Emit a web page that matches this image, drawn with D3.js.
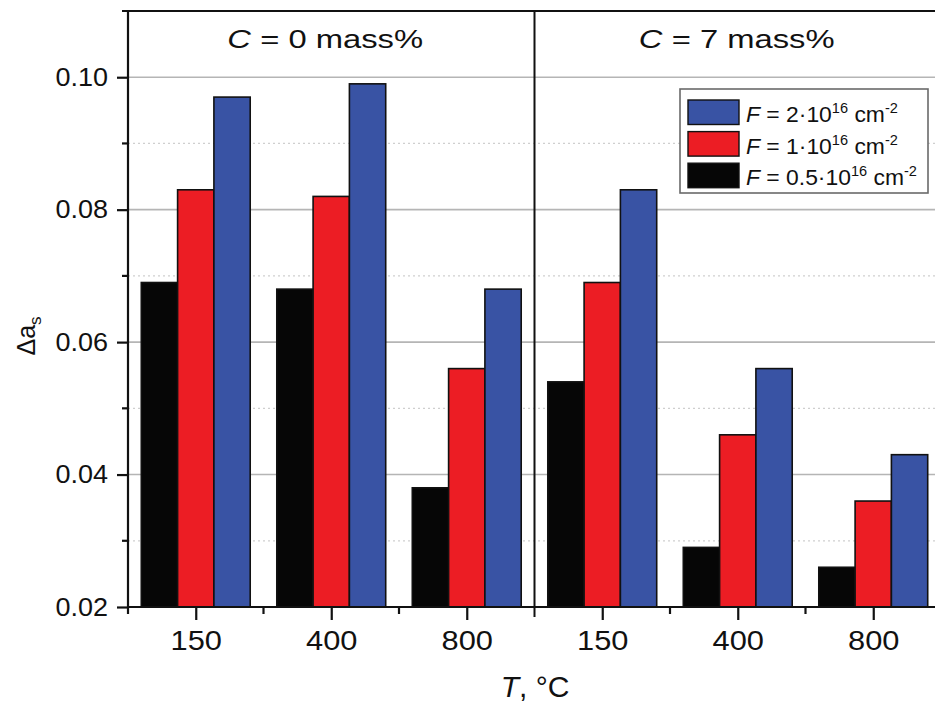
<!DOCTYPE html>
<html>
<head>
<meta charset="utf-8">
<script src="https://cdn.jsdelivr.net/npm/d3@7"></script>
<style>
  html, body { margin: 0; padding: 0; background: #fff; }
  svg { display: block; }
  text { font-family: "Liberation Sans", Arial, sans-serif; fill: #111; }
</style>
</head>
<body>
<svg id="chart" width="935" height="707"></svg>
<script>
// ---- data ----
const temperatures = ["150", "400", "800"];
const concentrations = ["0", "7"];
const categories = ["0-150", "0-400", "0-800", "7-150", "7-400", "7-800"];
const seriesNames = ["F05", "F1", "F2"];          // drawn left to right
const valuesF05 = [0.069, 0.068, 0.038, 0.054, 0.029, 0.026];
const valuesF1  = [0.083, 0.082, 0.056, 0.069, 0.046, 0.036];
const valuesF2  = [0.097, 0.099, 0.068, 0.083, 0.056, 0.043];
const yMajorTicks = [0.02, 0.04, 0.06, 0.08, 0.10];
const yMinorTicks = [0.03, 0.05, 0.07, 0.09];
const legendMantissa = ["2", "1", "0.5"];         // legend order: F2, F1, F05
const legendKeys = ["F2", "F1", "F05"];

(function draw() {
const seriesValues = { F05: valuesF05, F1: valuesF1, F2: valuesF2 };
const colors = { F05: "#060606", F1: "#ec1d24", F2: "#3953a4" };

// ---- layout ----
const svg = d3.select("#chart");
const mLeft = 128, mTop = 11, mBottom = 607, mRight = 941;

const y = d3.scaleLinear().domain([0.02, 0.11]).range([mBottom, mTop]);
const x0 = d3.scaleBand().domain(categories).range([mLeft, mRight]).padding(0);
const x1 = d3.scaleBand().domain(seriesNames).range([0, x0.bandwidth()])
  .paddingInner(0).paddingOuter(0.366);

function stretch(sel, k) {
  sel.each(function () {
    const w = this.getComputedTextLength();
    d3.select(this).attr("textLength", w * k).attr("lengthAdjust", "spacingAndGlyphs");
  });
}

// grid lines
svg.append("g").selectAll("line").data(yMinorTicks).join("line")
  .attr("x1", mLeft).attr("x2", 935)
  .attr("y1", d => y(d)).attr("y2", d => y(d))
  .attr("stroke", "#cfcfcf").attr("stroke-width", 1.2).attr("stroke-dasharray", "2,3");
svg.append("g").selectAll("line").data(yMajorTicks.slice(1)).join("line")
  .attr("x1", mLeft).attr("x2", 935)
  .attr("y1", d => y(d)).attr("y2", d => y(d))
  .attr("stroke", "#b5b5b5").attr("stroke-width", 1.6);

// bars
const groups = svg.append("g").selectAll("g").data(categories).join("g")
  .attr("transform", d => `translate(${x0(d)},0)`);
groups.selectAll("rect")
  .data((c, i) => seriesNames.map(s => ({ s, v: seriesValues[s][i] })))
  .join("rect")
  .attr("x", d => x1(d.s))
  .attr("width", x1.bandwidth())
  .attr("y", d => y(d.v))
  .attr("height", d => y(0.02) - y(d.v))
  .attr("fill", d => colors[d.s])
  .attr("stroke", "#111").attr("stroke-width", 1.6);

// top frame line
svg.append("line").attr("x1", mLeft - 6).attr("x2", 935)
  .attr("y1", mTop).attr("y2", mTop).attr("stroke", "#111").attr("stroke-width", 2.2);

// divider between C groups
const divX = x0("7-150");
svg.append("line").attr("x1", divX).attr("x2", divX)
  .attr("y1", mTop).attr("y2", mBottom + 10).attr("stroke", "#111").attr("stroke-width", 2);

// y axis
const yAxis = svg.append("g").attr("transform", `translate(${mLeft},0)`)
  .call(d3.axisLeft(y).tickValues(yMajorTicks).tickFormat(d3.format(".2f"))
    .tickSize(11).tickPadding(9));
yAxis.select(".domain").attr("stroke", "#111").attr("stroke-width", 2.2)
  .attr("d", `M0,${mTop}V${mBottom}`);
yAxis.selectAll(".tick line").attr("stroke", "#111").attr("stroke-width", 2.2);
yAxis.selectAll(".tick text").attr("font-size", 25).attr("fill", "#111")
  .attr("font-family", "Liberation Sans, Arial, sans-serif");
stretch(yAxis.selectAll(".tick text"), 1.08);
svg.append("g").selectAll("line").data(yMinorTicks).join("line")
  .attr("x1", mLeft - 6).attr("x2", mLeft)
  .attr("y1", d => y(d)).attr("y2", d => y(d))
  .attr("stroke", "#111").attr("stroke-width", 2.2);

// x axis
const xCenter = d => x0(d) + x0.bandwidth() / 2;
const xAxisScale = d3.scalePoint().domain(categories)
  .range([xCenter(categories[0]), xCenter(categories[categories.length - 1])]);
const xAxis = svg.append("g").attr("transform", `translate(0,${mBottom})`)
  .call(d3.axisBottom(xAxisScale).tickFormat(d => d.split("-")[1])
    .tickSize(13).tickPadding(10));
xAxis.select(".domain").attr("stroke", "#111").attr("stroke-width", 2.2)
  .attr("d", `M${mLeft},0H935`);
xAxis.selectAll(".tick line").attr("stroke", "#111").attr("stroke-width", 2.2);
xAxis.selectAll(".tick text").attr("font-size", 28).attr("fill", "#111")
  .attr("font-family", "Liberation Sans, Arial, sans-serif");
stretch(xAxis.selectAll(".tick text"), 1.1);
svg.append("g").selectAll("line").data(categories.filter((d, i) => i !== 3)).join("line")
  .attr("x1", d => x0(d)).attr("x2", d => x0(d))
  .attr("y1", mBottom).attr("y2", mBottom + 7)
  .attr("stroke", "#111").attr("stroke-width", 2.2);

// panel titles
concentrations.forEach((c, i) => {
  const cats = categories.filter(d => d.startsWith(c + "-"));
  const cx = i === 0 ? (x0(cats[0]) + x0(cats[2]) + x0.bandwidth()) / 2 - 6
                     : (x0(cats[0]) + 935) / 2 + 2;
  const t = svg.append("text").attr("x", cx).attr("y", 48)
    .attr("text-anchor", "middle").attr("font-size", 26);
  t.append("tspan").attr("font-style", "italic").text("C");
  t.append("tspan").text(` = ${c} mass%`);
  stretch(t, 1.26);
});

// axis titles
const xt = svg.append("text").attr("x", 535).attr("y", 697)
  .attr("text-anchor", "middle").attr("font-size", 30);
xt.append("tspan").attr("font-style", "italic").text("T");
xt.append("tspan").text(", °C");

const yt = svg.append("text").attr("transform", "translate(35,336) rotate(-90)")
  .attr("text-anchor", "middle").attr("font-size", 25);
yt.append("tspan").text("Δa");
yt.append("tspan").attr("font-size", 17).attr("dy", 6).text("s");

// legend
const lg = svg.append("g");
lg.append("rect").attr("x", 680).attr("y", 89).attr("width", 248).attr("height", 104)
  .attr("fill", "#fff").attr("stroke", "#6a6a6a").attr("stroke-width", 1.6);
legendKeys.forEach((k, i) => {
  const yy = 100 + i * 31.6;
  lg.append("rect").attr("x", 688).attr("y", yy).attr("width", 51).attr("height", 24.5)
    .attr("fill", colors[k]).attr("stroke", "#111").attr("stroke-width", 1.4);
  const t = lg.append("text").attr("transform", `translate(746,${yy + 22}) scale(1.04,1)`)
    .attr("font-size", 22);
  t.append("tspan").attr("font-style", "italic").text("F");
  t.append("tspan").text(` = ${legendMantissa[i]}·10`);
  t.append("tspan").attr("font-size", 14).attr("dy", -9).text("16");
  t.append("tspan").attr("dy", 9).text(" cm");
  t.append("tspan").attr("font-size", 14).attr("dy", -9).text("-2");
});
})();
</script>
</body>
</html>
